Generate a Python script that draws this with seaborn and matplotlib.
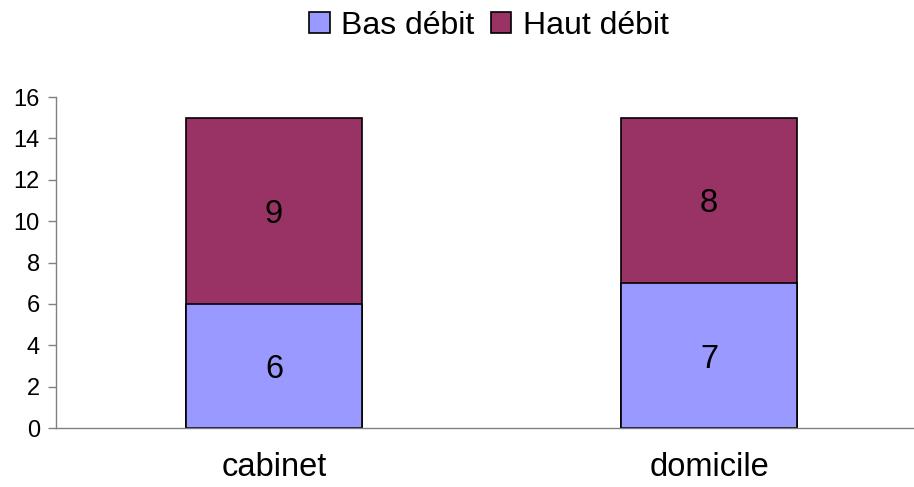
import matplotlib
matplotlib.use("Agg")
import matplotlib.pyplot as plt
import seaborn as sns
import pandas as pd
from matplotlib.patches import Patch

categories = ["cabinet", "domicile"]
bas_debit = [6, 7]
haut_debit = [9, 8]
series_names = ["Bas débit", "Haut débit"]
colors = ["#9999FF", "#993366"]
yticks = [0, 2, 4, 6, 8, 10, 12, 14, 16]

sns.set_theme(style="white")
plt.rcParams['font.family'] = ['Liberation Sans', 'DejaVu Sans']
plt.rcParams['text.color'] = 'black'
plt.rcParams['xtick.color'] = 'black'
plt.rcParams['ytick.color'] = 'black'

totals = [b + h for b, h in zip(bas_debit, haut_debit)]
df = pd.DataFrame({"cat": categories, "bas": bas_debit, "haut": haut_debit, "total": totals})

fig = plt.figure(figsize=(9.14, 4.87), dpi=100)
ax = fig.add_axes([0.0618, 0.1211, 0.952, 0.6797])

sns.barplot(data=df, x="cat", y="total", color=colors[1], width=0.405,
            edgecolor="black", linewidth=1.2, saturation=1, ax=ax)
sns.barplot(data=df, x="cat", y="bas", color=colors[0], width=0.405,
            edgecolor="black", linewidth=1.2, saturation=1, ax=ax)

for i, (b, h) in enumerate(zip(bas_debit, haut_debit)):
    ax.text(i, b / 2, str(b), ha="center", va="center_baseline", fontsize=23.5, color="black")
    ax.text(i, b + h / 2, str(h), ha="center", va="center_baseline", fontsize=23.5, color="black")

ax.set_ylim(0, 16)
ax.set_xlim(-0.5, 1.5)
ax.set_yticks(yticks)
ax.set_xlabel("")
ax.set_ylabel("")
ax.tick_params(axis="y", length=6, width=1, color="#808080", labelcolor="black",
               labelsize=17, pad=6, left=True)
ax.tick_params(axis="x", length=0, labelsize=23.5, labelcolor="black", pad=17)
for s in ["top", "right"]:
    ax.spines[s].set_visible(False)
for s in ["left", "bottom"]:
    ax.spines[s].set_color("#808080")
    ax.spines[s].set_linewidth(1)

handles = [Patch(facecolor=c, edgecolor="black", linewidth=1.2) for c in colors]
fig.legend(handles, series_names, loc="center", bbox_to_anchor=(0.535, 0.947), ncol=2,
           frameon=False, fontsize=23, handlelength=0.65, handleheight=0.65,
           handletextpad=0.35, columnspacing=0.5)

fig.savefig("out.png", dpi=100)
